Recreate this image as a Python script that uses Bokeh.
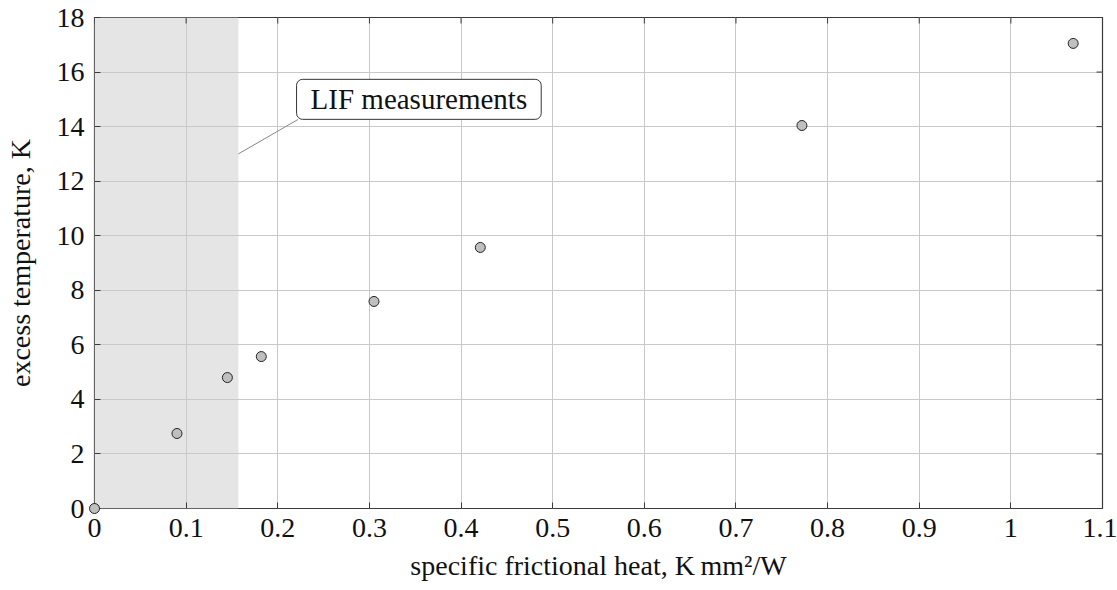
import math
from bokeh.plotting import figure
from bokeh.models import Range1d, FixedTicker, CustomJSTickFormatter, BoxAnnotation, Label
from bokeh.embed import file_html
from bokeh.resources import INLINE

# data
frictional_heat = [0.0, 0.090, 0.145, 0.182, 0.305, 0.421, 0.772, 1.068]
excess_temp = [0.0, 2.75, 4.80, 5.57, 7.59, 9.57, 14.04, 17.05]
x_ticks = [0, 0.1, 0.2, 0.3, 0.4, 0.5, 0.6, 0.7, 0.8, 0.9, 1.0, 1.1]
y_ticks = [0, 2, 4, 6, 8, 10, 12, 14, 16, 18]
x_limits = [0.0, 1.1]
y_limits = [0.0, 18.0]
lif_range = [0.0, 0.157]
annotation_text = "LIF measurements"
annotation_anchor = [0.157, 13.0]
annotation_pos = [0.354, 15.0]
annotation_corner = [0.222, 14.26]

FONT = "Liberation Serif"
FS = "28px"
FRAME = "#3a3a3a"

p = figure(frame_width=1008, frame_height=491, output_backend="svg", toolbar_location=None,
           x_range=Range1d(*x_limits), y_range=Range1d(*y_limits),
           min_border_left=94, min_border_right=15, min_border_top=17, min_border_bottom=82)
p.background_fill_color = "white"
p.border_fill_color = "white"
p.outline_line_color = FRAME
p.outline_line_width = 1.2

fmt = CustomJSTickFormatter(code="return String(Math.round(tick*10)/10);")

for ax, ticks in ((p.xaxis[0], x_ticks), (p.yaxis[0], y_ticks)):
    ax.ticker = FixedTicker(ticks=ticks)
    ax.formatter = fmt
    ax.major_tick_in = 6
    ax.major_tick_out = 0
    ax.minor_tick_line_color = None
    ax.major_tick_line_color = FRAME
    ax.axis_line_color = None
    ax.major_label_text_font = FONT
    ax.major_label_text_font_size = FS
    ax.major_label_text_color = "#111111"
    ax.axis_label_text_font = FONT
    ax.axis_label_text_font_size = FS
    ax.axis_label_text_font_style = "normal"
    ax.axis_label_text_color = "#111111"

p.xaxis[0].major_label_standoff = 10
p.yaxis[0].major_label_standoff = 10
p.xaxis[0].axis_label = "specific frictional heat, K\u2009mm\u00b2/W"
p.yaxis[0].axis_label = "excess temperature, K"
p.xaxis[0].axis_label_standoff = 10
p.yaxis[0].axis_label_standoff = 18

p.xgrid.ticker = FixedTicker(ticks=x_ticks)
p.ygrid.ticker = FixedTicker(ticks=y_ticks)
p.grid.grid_line_color = "#c9c9c9"
p.grid.grid_line_width = 1

shade = BoxAnnotation(left=lif_range[0], right=lif_range[1], fill_color="#e5e5e5",
                      fill_alpha=1.0, line_color=None, level="image")
p.add_layout(shade)

# inward tick marks on the top and right edges (half of each dash lies inside the frame)
p.scatter(x_ticks, [y_limits[1]] * len(x_ticks), marker="dash", size=12, angle=math.pi / 2,
          line_color=FRAME, line_width=1)
p.scatter([x_limits[1]] * len(y_ticks), y_ticks, marker="dash", size=12,
          line_color=FRAME, line_width=1)

p.segment(x0=[annotation_anchor[0]], y0=[annotation_anchor[1]],
          x1=[annotation_corner[0]], y1=[annotation_corner[1]],
          line_color="#888888", line_width=1)

lbl = Label(x=annotation_pos[0], y=annotation_pos[1], text=annotation_text,
            text_align="center", text_baseline="middle",
            text_font=FONT, text_font_size="29px", text_color="#111111",
            background_fill_color="white", border_line_color="#333333",
            border_line_width=1, border_radius=6, padding=(14, 4))
p.add_layout(lbl)

p.scatter(frictional_heat, excess_temp, size=10, fill_color="#bfbfbf",
          line_color="#222222", line_width=1, level="overlay")

open("out.html", "w").write(file_html(p, INLINE))
